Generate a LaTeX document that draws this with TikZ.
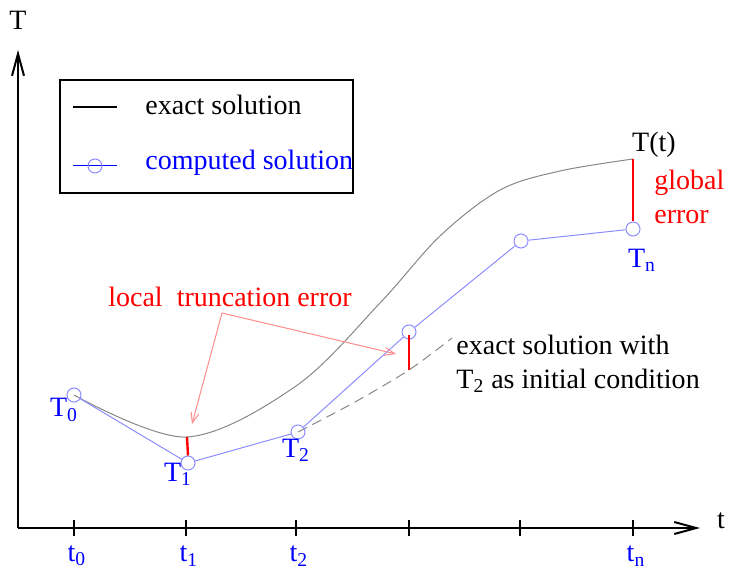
\documentclass[tikz,border=0pt]{standalone}
\usepackage{fontspec}
\setmainfont{Liberation Serif}
\usetikzlibrary{arrows.meta}
\definecolor{cblue}{RGB}{0,0,255}
\definecolor{clblue}{RGB}{140,140,255}
\definecolor{cgrey}{RGB}{135,135,135}
\definecolor{cred}{RGB}{255,0,0}
\definecolor{cpink}{RGB}{255,140,140}
\tikzset{
  every picture/.style={font=\rmfamily\fontsize{14}{17}\selectfont},
  axis/.style={line width=1pt, -{Straight Barb[length=11pt, width=6pt]}},
  exact/.style={draw=cgrey, line width=0.5pt},
  comp/.style={draw=clblue, line width=0.5pt},
  pt/.style={circle, draw=clblue, line width=0.5pt, minimum size=7pt, inner sep=0pt},
  err/.style={draw=cred, line width=1.2pt},
  pointer/.style={draw=cpink, line width=0.5pt, -{Straight Barb[length=5pt, width=4pt]}},
  blab/.style={text=cblue, inner sep=1pt},
  rlab/.style={text=cred, inner sep=1pt},
}

\begin{document}
\begin{tikzpicture}[x=0.5pt, y=-0.5pt]
  \useasboundingbox (0,0) rectangle (731,571);
  % axes
  \coordinate (o) at (18,528);
  \coordinate (ytop) at (18,50);
  \coordinate (xend) at (700,528);
  \draw[axis] (o) -- (ytop);
  \draw[axis] (o) -- (xend);
  \node (Tlab) at (18,20) {T};
  \node (tlab) at (721,521) {t};
  \foreach \x in {74,186,296,409,520,633} {\draw[line width=1pt] (\x,520) -- (\x,536);}
  \foreach \x/\s in {74/0, 186/1, 296/2, 633/n} {\node[blab] (t\s) at (\x+3,556) {t\textsubscript{\s}};}
  % legend
  \draw[line width=0.8pt] (60,80) rectangle (353,193);
  \draw[line width=0.7pt] (73,107) -- (117,107);
  \node[anchor=west, inner sep=0pt] (lex) at (145,105) {exact solution};
  \draw[comp, draw=cblue] (73,166) -- (117,166);
  \node[pt] (lpt) at (95,166) {};
  \node[anchor=west, inner sep=0pt, text=cblue] (lcomp) at (145,163) {computed solution};
  % exact solution
  \draw[exact] plot[smooth, tension=0.55] coordinates {(74,395) (186,437) (296,386) (380,303) (440,236) (500,190) (560,171) (633,159)};
  \coordinate (e1) at (187,437);
  \coordinate (e3) at (409,335);
  \coordinate (f3) at (409,370);
  \coordinate (en) at (633,159);
  % exact solution from T2
  \draw[cgrey, line width=0.5pt, dash pattern=on 5pt off 3pt] plot[smooth] coordinates {(298,432) (355,402) (409,370) (452,338)};
  % computed solution
  \node[pt] (p0) at (74,395) {};
  \node[pt] (p1) at (188,463) {};
  \node[pt] (p2) at (298,432) {};
  \node[pt] (p3) at (409,332) {};
  \node[pt] (p4) at (521,241) {};
  \node[pt] (pn) at (633,229) {};
  \draw[comp] (p0) -- (p1) -- (p2) -- (p3) -- (p4) -- (pn);
  \node[blab] (T0) at (64,410) {T\textsubscript{0}};
  \node[blab] (T1) at (178,474) {T\textsubscript{1}};
  \node[blab] (T2) at (296,450) {T\textsubscript{2}};
  \node[blab] (Tn) at (642,260) {T\textsubscript{n}};
  \node[inner sep=1pt] (Tt) at (654,145) {T(t)};
  % errors
  \draw[err] (e1) -- (p1.north);
  \draw[err] (e3) -- (f3);
  \draw[err] (en) -- (pn.north);
  \node[rlab, anchor=west, align=left] (glob) at (652,197) {global\\error};
  \node[rlab] (lte) at (230,297) {local\ \ truncation error};
  \coordinate (ltea) at (222,313);
  \draw[pointer] (ltea) -- (192,424);
  \draw[pointer] (ltea) -- (396,354);
  \node[anchor=west, align=left, inner sep=0pt] (note) at (456,364) {exact solution with\\T\textsubscript{2} as initial condition};
\end{tikzpicture}
\end{document}
